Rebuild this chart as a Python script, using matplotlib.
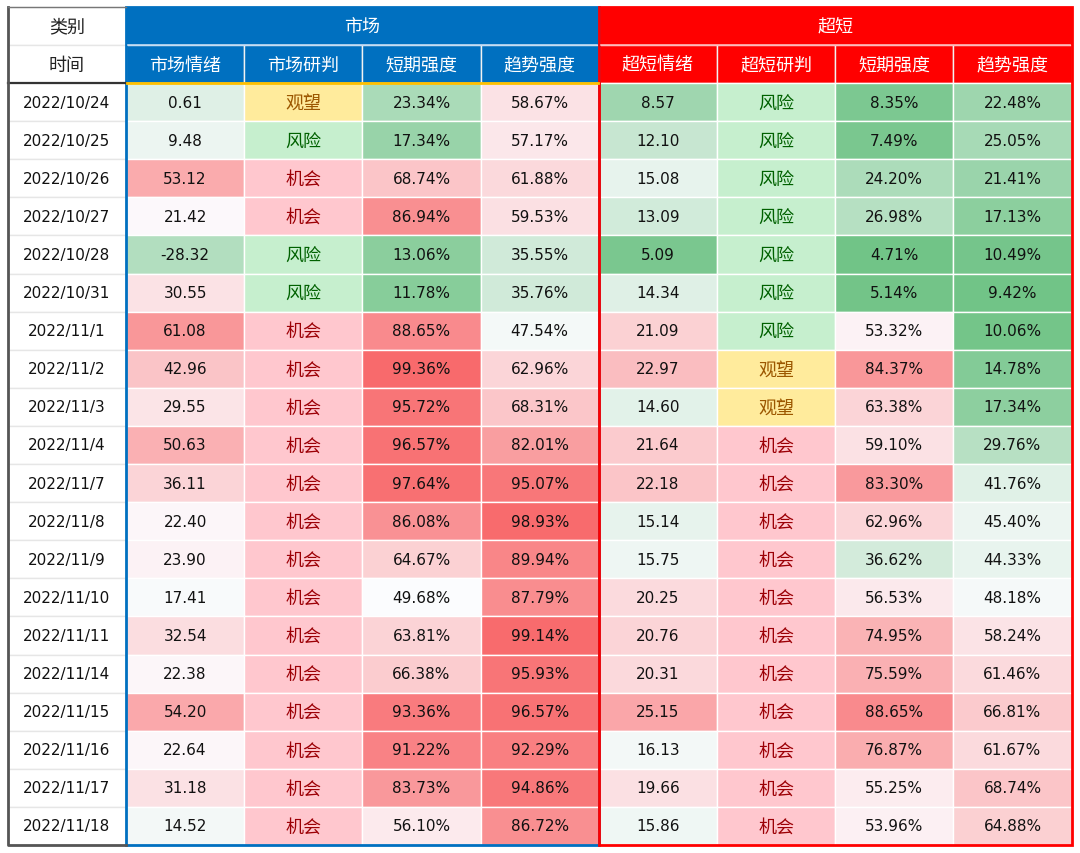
#!/usr/bin/env python3
"""Market / ultra-short sentiment table with Excel-style colour scales."""

import matplotlib
matplotlib.use("Agg")
import matplotlib.pyplot as plt
from matplotlib.colors import LinearSegmentedColormap, TwoSlopeNorm
from matplotlib.patches import Rectangle

plt.rcParams["font.family"] = ["Noto Sans CJK SC", "DejaVu Sans"]

dates = [
    "2022/10/24", "2022/10/25", "2022/10/26", "2022/10/27", "2022/10/28",
    "2022/10/31", "2022/11/1", "2022/11/2", "2022/11/3", "2022/11/4",
    "2022/11/7", "2022/11/8", "2022/11/9", "2022/11/10", "2022/11/11",
    "2022/11/14", "2022/11/15", "2022/11/16", "2022/11/17", "2022/11/18",
]
market_mood = [0.61, 9.48, 53.12, 21.42, -28.32, 30.55, 61.08, 42.96, 29.55, 50.63,
               36.11, 22.40, 23.90, 17.41, 32.54, 22.38, 54.20, 22.64, 31.18, 14.52]
market_call = ["观望", "风险", "机会", "机会", "风险", "风险"] + ["机会"] * 14
market_short = [23.34, 17.34, 68.74, 86.94, 13.06, 11.78, 88.65, 99.36, 95.72, 96.57,
                97.64, 86.08, 64.67, 49.68, 63.81, 66.38, 93.36, 91.22, 83.73, 56.10]
market_trend = [58.67, 57.17, 61.88, 59.53, 35.55, 35.76, 47.54, 62.96, 68.31, 82.01,
                95.07, 98.93, 89.94, 87.79, 99.14, 95.93, 96.57, 92.29, 94.86, 86.72]
super_mood = [8.57, 12.10, 15.08, 13.09, 5.09, 14.34, 21.09, 22.97, 14.60, 21.64,
              22.18, 15.14, 15.75, 20.25, 20.76, 20.31, 25.15, 16.13, 19.66, 15.86]
super_call = ["风险"] * 7 + ["观望", "观望"] + ["机会"] * 11
super_short = [8.35, 7.49, 24.20, 26.98, 4.71, 5.14, 53.32, 84.37, 63.38, 59.10,
               83.30, 62.96, 36.62, 56.53, 74.95, 75.59, 88.65, 76.87, 55.25, 53.96]
super_trend = [22.48, 25.05, 21.41, 17.13, 10.49, 9.42, 10.06, 14.78, 17.34, 29.76,
               41.76, 45.40, 44.33, 48.18, 58.24, 61.46, 66.81, 61.67, 68.74, 64.88]

groups = ["市场", "超短"]
sub_headers = ["市场情绪", "市场研判", "短期强度", "趋势强度",
               "超短情绪", "超短研判", "短期强度", "趋势强度"]

# (values, kind, (vmin, vcenter, vmax)) per data column
columns = [
    (market_mood, "num", (-80, 20, 80)),
    (market_call, "call", None),
    (market_short, "pct", (0, 50, 100)),
    (market_trend, "pct", (0, 50, 100)),
    (super_mood, "num", (3, 17, 31)),
    (super_call, "call", None),
    (super_short, "pct", (0, 50, 100)),
    (super_trend, "pct", (5, 50, 100)),
]

CALL_STYLE = {
    "机会": ("#FFC7CE", "#9C0006"),
    "风险": ("#C6EFCE", "#006100"),
    "观望": ("#FFEB9C", "#9C5700"),
}
GROUP_COLORS = ["#0070C0", "#FF0000"]
cmap = LinearSegmentedColormap.from_list("gwr", ["#63BE7B", "#FCFCFF", "#F8696B"])

X0, Y0 = 8, 8
DATE_W = 118
COL_W = 118.2
HEAD_H = 38
ROW_H = 38.1
FS_NUM = 11
FS_CJK = 13
CJK_DY = 0.5  # nudge CJK glyphs so they line up with the digits
NUM_FONT = ["DejaVu Sans"]


def cjk_text(ax, x, y, s, color):
    ax.text(x, y + CJK_DY, s, ha="center", va="center", fontsize=FS_CJK, color=color)


def main():
    fig = plt.figure(figsize=(10.8, 8.54), dpi=100)
    ax = fig.add_axes([0, 0, 1, 1])
    ax.set_xlim(0, 1080)
    ax.set_ylim(854, 0)
    ax.axis("off")

    n_rows = len(dates)
    table_bottom = Y0 + 2 * HEAD_H + n_rows * ROW_H
    col_x = [X0 + DATE_W + i * COL_W for i in range(len(columns) + 1)]

    # date column header
    for r, label in enumerate(["类别", "时间"]):
        y = Y0 + r * HEAD_H
        ax.add_patch(Rectangle((X0, y), DATE_W, HEAD_H, facecolor="white",
                               edgecolor="#E6E6E6", linewidth=1))
        cjk_text(ax, X0 + DATE_W / 2, y + HEAD_H / 2, label, "#222222")

    # group headers
    for g, name in enumerate(groups):
        gx = col_x[g * 4]
        gw = col_x[g * 4 + 4] - gx
        ax.add_patch(Rectangle((gx, Y0), gw, HEAD_H, facecolor=GROUP_COLORS[g],
                               edgecolor="none"))
        cjk_text(ax, gx + gw / 2, Y0 + HEAD_H / 2, name, "white")
        for j in range(4):
            c = g * 4 + j
            ax.add_patch(Rectangle((col_x[c], Y0 + HEAD_H), COL_W, HEAD_H,
                                   facecolor=GROUP_COLORS[g], edgecolor="#F2F2F2",
                                   linewidth=1))
            cjk_text(ax, col_x[c] + COL_W / 2, Y0 + 1.5 * HEAD_H, sub_headers[c], "white")
        ax.plot([gx + 2, gx + gw - 2], [Y0 + HEAD_H, Y0 + HEAD_H],
                color="#BFD9F2" if g == 0 else "#FFB3B3", linewidth=1.2)

    # data rows
    for r, d in enumerate(dates):
        y = Y0 + 2 * HEAD_H + r * ROW_H
        ax.add_patch(Rectangle((X0, y), DATE_W, ROW_H, facecolor="white",
                               edgecolor="#E6E6E6", linewidth=1))
        ax.text(X0 + DATE_W / 2, y + ROW_H / 2, d, ha="center", va="center",
                fontsize=FS_NUM, color="#111111", family=NUM_FONT)
        for c, (vals, kind, rng) in enumerate(columns):
            v = vals[r]
            if kind == "call":
                face, tcol = CALL_STYLE[v]
                ax.add_patch(Rectangle((col_x[c], y), COL_W, ROW_H, facecolor=face,
                                       edgecolor="white", linewidth=1))
                cjk_text(ax, col_x[c] + COL_W / 2, y + ROW_H / 2, v, tcol)
                continue
            norm = TwoSlopeNorm(vcenter=rng[1], vmin=rng[0], vmax=rng[2])
            face = cmap(float(norm(v)))
            label = f"{v:.2f}%" if kind == "pct" else f"{v:.2f}"
            ax.add_patch(Rectangle((col_x[c], y), COL_W, ROW_H, facecolor=face,
                                   edgecolor="white", linewidth=1))
            ax.text(col_x[c] + COL_W / 2, y + ROW_H / 2, label, ha="center",
                    va="center", fontsize=FS_NUM, color="#111111", family=NUM_FONT)

    # outlines
    head_bottom = Y0 + 2 * HEAD_H
    ax.plot([X0, X0 + DATE_W], [head_bottom, head_bottom], color="#333333", linewidth=1.6)
    ax.plot([X0, X0, X0 + DATE_W], [Y0, table_bottom, table_bottom],
            color="#555555", linewidth=2)
    ax.plot([X0, X0 + DATE_W], [Y0, Y0], color="#777777", linewidth=1)
    ax.plot([col_x[0] + 1, col_x[4] - 1], [head_bottom, head_bottom],
            color="#FFC000", linewidth=2)
    for g in range(2):
        gx = col_x[g * 4]
        gw = col_x[g * 4 + 4] - gx
        ax.add_patch(Rectangle((gx, Y0), gw, table_bottom - Y0, facecolor="none",
                               edgecolor=GROUP_COLORS[g], linewidth=2))

    fig.savefig("out.png", dpi=100, facecolor="white")
    plt.close(fig)


if __name__ == "__main__":
    main()
